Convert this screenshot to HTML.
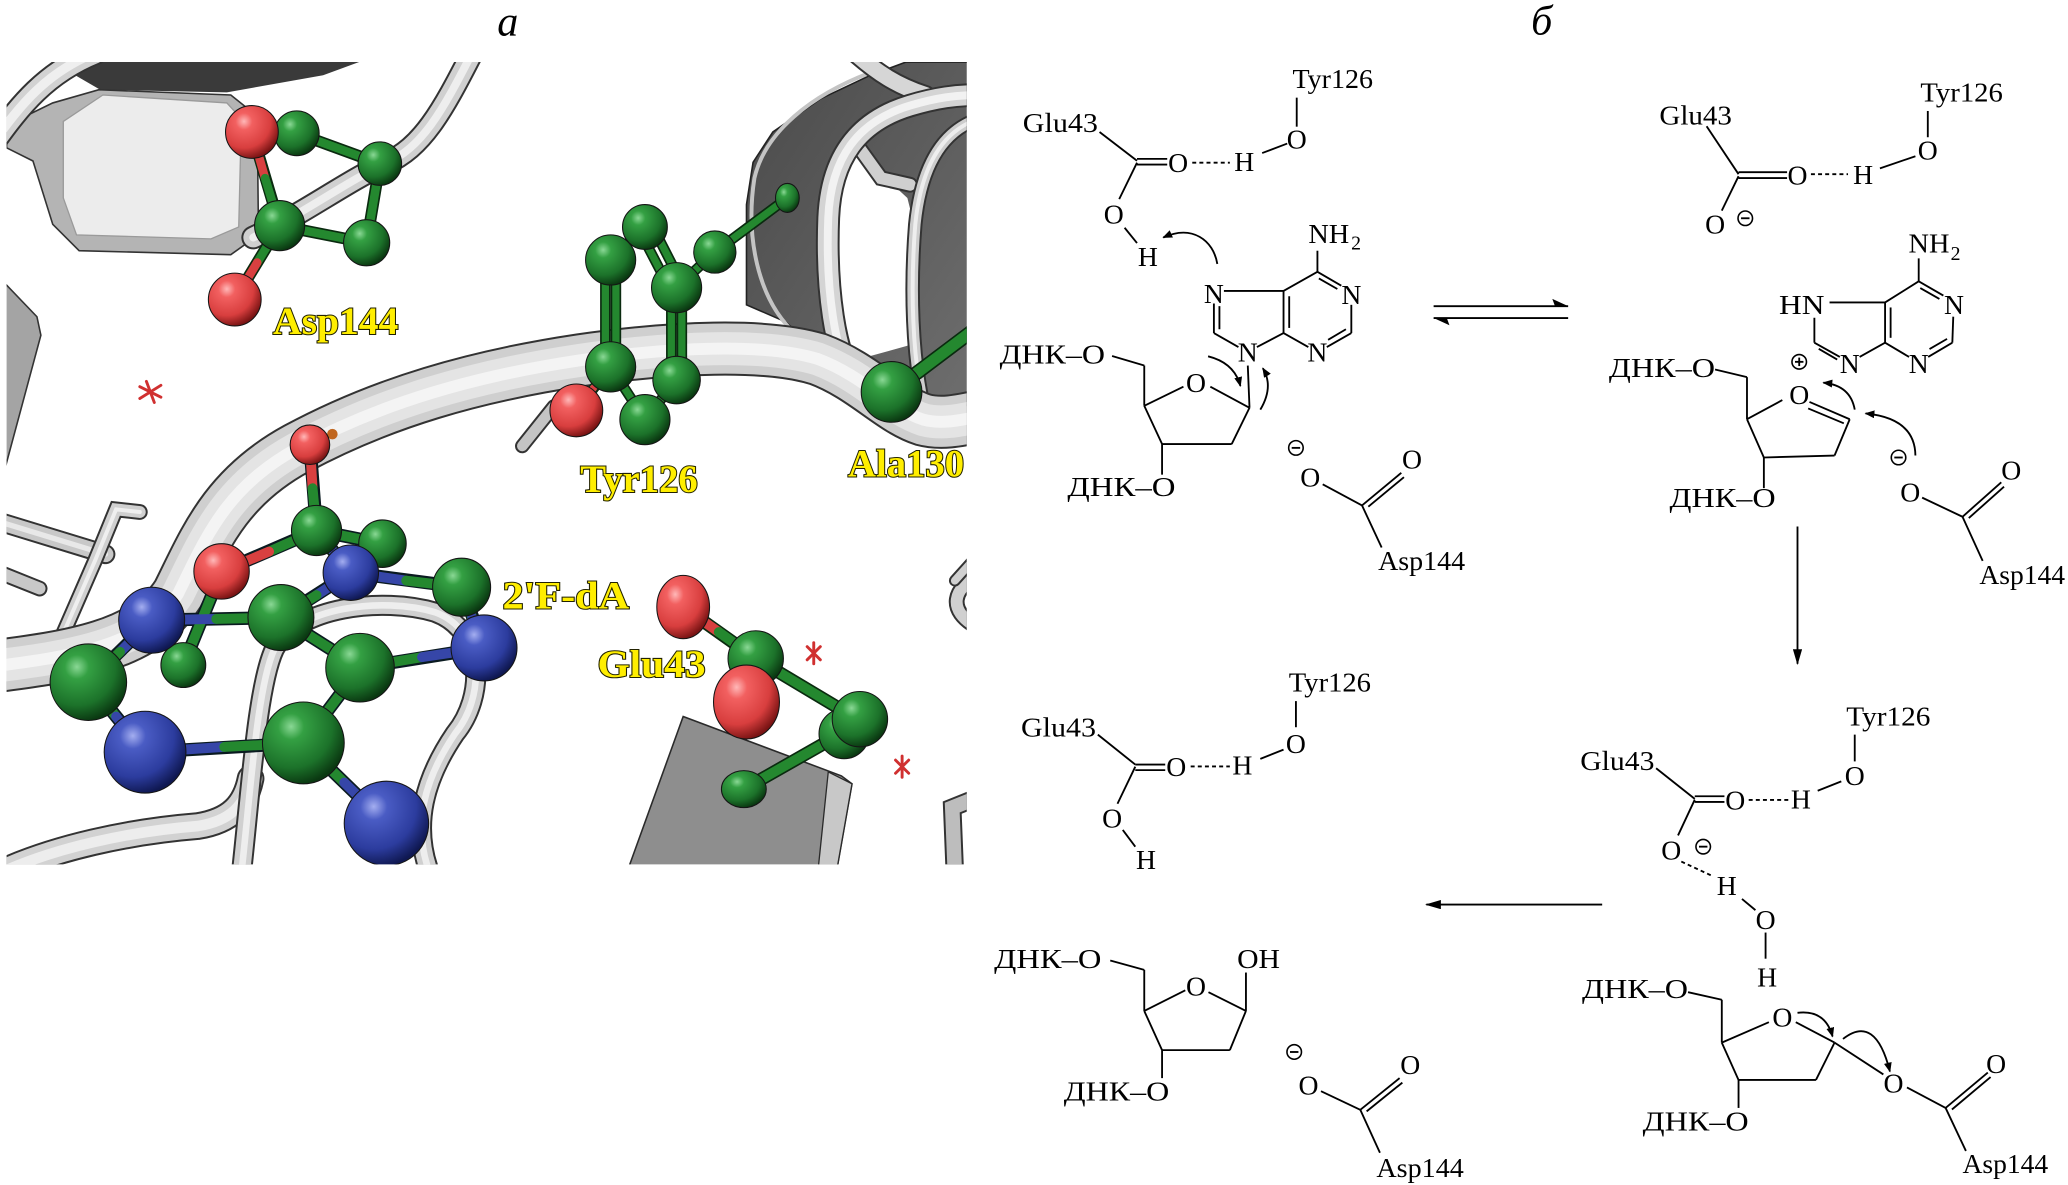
<!DOCTYPE html>
<html><head><meta charset="utf-8">
<style>
html,body{margin:0;padding:0;background:#fff;}
svg{display:block;}
.t{font-family:"Liberation Serif",serif;font-size:21px;fill:#000;}
.s{font-family:"Liberation Serif",serif;font-size:15px;fill:#000;}
.y{font-family:"Liberation Serif",serif;font-size:30px;font-weight:bold;fill:#ffee00;stroke:#222200;stroke-width:1.6px;paint-order:stroke;}
.lb{font-family:"Liberation Serif",serif;font-size:32px;font-style:italic;fill:#000;}
.c line,.c path,.c polyline{stroke:#000;stroke-width:1.4;fill:none;}
.c circle{stroke:#000;stroke-width:1.2;fill:none;}
</style></head><body>
<svg width="2068" height="1185" viewBox="0 0 1568 898" preserveAspectRatio="none" xmlns="http://www.w3.org/2000/svg">
<defs>
<clipPath id="pc"><rect x="5" y="47" width="728" height="608"/></clipPath>
<radialGradient id="gG" cx="35%" cy="30%" r="72%"><stop offset="0" stop-color="#8ad895"/><stop offset="0.22" stop-color="#34a043"/><stop offset="0.7" stop-color="#1c722a"/><stop offset="1" stop-color="#0a3811"/></radialGradient>
<radialGradient id="gR" cx="35%" cy="30%" r="72%"><stop offset="0" stop-color="#ffb8b8"/><stop offset="0.22" stop-color="#f26060"/><stop offset="0.7" stop-color="#d83e3e"/><stop offset="1" stop-color="#7a1414"/></radialGradient>
<radialGradient id="gB" cx="35%" cy="30%" r="72%"><stop offset="0" stop-color="#a4aef0"/><stop offset="0.22" stop-color="#4a5cc4"/><stop offset="0.7" stop-color="#2c3c9e"/><stop offset="1" stop-color="#0f1852"/></radialGradient>
<linearGradient id="dk" x1="0" y1="0" x2="1" y2="1"><stop offset="0" stop-color="#4a4a4a"/><stop offset="1" stop-color="#6e6e6e"/></linearGradient>
<marker id="ah" viewBox="0 0 10 8" refX="9" refY="4" markerWidth="7.5" markerHeight="6" markerUnits="userSpaceOnUse" orient="auto"><path d="M0,0 L10,4 L0,8 z" fill="#000"/></marker>
<marker id="ah2" viewBox="0 0 12 7" refX="11" refY="3.5" markerWidth="12" markerHeight="7" markerUnits="userSpaceOnUse" orient="auto"><path d="M0,0 L12,3.5 L0,7 z" fill="#000"/></marker>
<path id="tMain" d="M -5 505 C 50 498, 110 490, 135 450 C 155 410, 170 370, 225 340 C 290 305, 360 285, 440 273 C 510 263, 580 260, 620 272 C 655 285, 675 310, 700 318 C 715 322, 730 318, 745 315"/>
<path id="tLoop" d="M 183 662 C 190 600, 195 520, 208 492 C 225 460, 290 452, 330 464 C 368 478, 368 528, 345 556 C 322 590, 312 625, 326 662"/>
<path id="tBL" d="M -5 664 C 40 642, 100 630, 150 626 C 175 622, 186 610, 190 590"/>
<path id="tTop" d="M 358 40 C 335 85, 320 112, 292 124 C 262 138, 230 162, 192 180"/>
<path id="tTL" d="M -5 108 C 15 80, 35 55, 72 40"/>
<path id="tRing" d="M 650 292 C 632 272, 626 215, 628 165 C 630 120, 650 92, 690 80 C 710 74, 725 72, 742 72"/>
<path id="tIn" d="M 700 306 C 692 270, 690 220, 694 170 C 698 130, 712 100, 742 90"/>
<path id="tTR" d="M 648 40 C 665 55, 680 65, 702 72"/>
<path id="s1" d="M -5 394 L 80 420"/>
<path id="s2" d="M 48 480 L 72 425 L 88 386 L 106 388"/>
<path id="s3" d="M -5 432 L 30 446"/>
<path id="s4" d="M 396 338 L 420 308"/>
<path id="s5" d="M 650 110 L 668 135 L 690 140"/>
<path id="r1" d="M 742 436 C 724 445, 716 462, 742 476"/>
<path id="r2" d="M 742 604 L 722 612 L 724 662"/>
<path id="r3" d="M 742 420 L 724 440"/>
</defs>
<rect width="1568" height="898" fill="#fff"/>

<text class="lb" x="385" y="27" text-anchor="middle">а</text>
<text class="lb" x="1169" y="26" text-anchor="middle">б</text>

<!-- LEFT PANEL -->
<g clip-path="url(#pc)">
<polygon points="38,46 275,46 245,57 172,70 76,68" fill="#3a3a3a"/>
<polygon points="5,95 40,78 75,68 175,72 195,88 196,178 175,193 60,190 40,170 25,122 5,112" fill="#b4b4b4" stroke="#333" stroke-width="1.2"/>
<polygon points="48,92 78,72 172,78 183,90 181,172 160,181 58,178 48,150" fill="#ececec" stroke="#9a9a9a" stroke-width="1"/>
<g fill="none" stroke-linecap="round">
<use href="#tTL" stroke="#333" stroke-width="19"/><use href="#tTL" stroke="#d2d2d2" stroke-width="16"/><use href="#tTL" stroke="#efefef" stroke-width="7"/>
<use href="#tTop" stroke="#333" stroke-width="18"/><use href="#tTop" stroke="#d0d0d0" stroke-width="15"/><use href="#tTop" stroke="#eeeeee" stroke-width="6"/>
</g>
<polygon points="3,214 28,240 31,254 3,358" fill="#a4a4a4" stroke="#333" stroke-width="1.2"/>

<polygon points="566,231 566,155 571,123 586,100 622,75 660,57 687,47 735,47 735,307 698,310 655,297 622,269 596,244" fill="url(#dk)" stroke="#222" stroke-width="1.2"/>
<path d="M 600 250 C 575 225, 565 180, 572 135 C 580 100, 615 72, 660 55" fill="none" stroke="#c4c4c4" stroke-width="3"/>
<polygon points="634,252 632,160 637,123 652,105 662,126 688,150 693,170 695,244 688,262 652,272" fill="#fff"/>
<g fill="none" stroke-linecap="round">
<use href="#s5" stroke="#333" stroke-width="12"/><use href="#s5" stroke="#cfcfcf" stroke-width="9"/>
<use href="#tTR" stroke="#333" stroke-width="15"/><use href="#tTR" stroke="#d6d6d6" stroke-width="12"/>
<use href="#tIn" stroke="#333" stroke-width="11"/><use href="#tIn" stroke="#cdcdcd" stroke-width="8"/><use href="#tIn" stroke="#eeeeee" stroke-width="3"/>
<use href="#tRing" stroke="#333" stroke-width="18"/><use href="#tRing" stroke="#d4d4d4" stroke-width="15"/><use href="#tRing" stroke="#f2f2f2" stroke-width="6"/>
</g>

<polygon points="518,543 638,588 646,594 634,662 475,662" fill="#8e8e8e" stroke="#2a2a2a" stroke-width="1.2"/>
<polygon points="628,585 646,594 634,662 620,662" fill="#c8c8c8" stroke="#2a2a2a" stroke-width="1"/>
<g fill="none" stroke-linecap="round">
<use href="#r1" stroke="#333" stroke-width="12"/><use href="#r1" stroke="#d0d0d0" stroke-width="9"/>
<use href="#r2" stroke="#333" stroke-width="14"/><use href="#r2" stroke="#bdbdbd" stroke-width="11"/>
<use href="#r3" stroke="#333" stroke-width="9"/><use href="#r3" stroke="#d0d0d0" stroke-width="6"/>
<use href="#s1" stroke="#333" stroke-width="15"/><use href="#s1" stroke="#c8c8c8" stroke-width="12"/><use href="#s1" stroke="#e8e8e8" stroke-width="4"/>
<use href="#s3" stroke="#333" stroke-width="12"/><use href="#s3" stroke="#c8c8c8" stroke-width="9"/>
<use href="#s2" stroke="#333" stroke-width="12"/><use href="#s2" stroke="#d0d0d0" stroke-width="9"/><use href="#s2" stroke="#efefef" stroke-width="3"/>
<use href="#s4" stroke="#333" stroke-width="11"/><use href="#s4" stroke="#c4c4c4" stroke-width="8"/>
<use href="#tBL" stroke="#333" stroke-width="21"/><use href="#tBL" stroke="#d2d2d2" stroke-width="18"/><use href="#tBL" stroke="#ededed" stroke-width="8"/>
<use href="#tLoop" stroke="#333" stroke-width="16"/><use href="#tLoop" stroke="#d0d0d0" stroke-width="13"/><use href="#tLoop" stroke="#eeeeee" stroke-width="5"/>
<use href="#tMain" stroke="#333" stroke-width="41"/><use href="#tMain" stroke="#cfcfcf" stroke-width="38"/><use href="#tMain" stroke="#e4e4e4" stroke-width="25"/><use href="#tMain" stroke="#f4f4f4" stroke-width="9"/>
</g>

<g stroke="#d03030" stroke-width="2.2" stroke-linecap="round">
<line x1="111" y1="289" x2="117" y2="305"/><line x1="106" y1="293" x2="122" y2="301"/><line x1="106" y1="302" x2="122" y2="292"/>
<line x1="612" y1="490" x2="622" y2="500"/><line x1="622" y1="490" x2="612" y2="500"/><line x1="617" y1="487" x2="617" y2="503"/>
<line x1="679" y1="576" x2="689" y2="586"/><line x1="689" y1="576" x2="679" y2="586"/><line x1="684" y1="573" x2="684" y2="589"/>
</g>

<g stroke-linecap="round" fill="none">
<g stroke="#0a2a0f" stroke-width="9">
<line x1="191" y1="100" x2="212" y2="171"/><line x1="225" y1="101" x2="288" y2="124"/><line x1="288" y1="124" x2="278" y2="184"/><line x1="278" y1="184" x2="212" y2="171"/><line x1="212" y1="171" x2="178" y2="227"/><line x1="191" y1="100" x2="225" y2="101"/>
</g>
<g stroke-width="6.5">
<line x1="191" y1="100" x2="201" y2="135" stroke="#d84040"/><line x1="201" y1="135" x2="212" y2="171" stroke="#24882f"/>
<line x1="225" y1="101" x2="288" y2="124" stroke="#24882f"/><line x1="288" y1="124" x2="278" y2="184" stroke="#24882f"/><line x1="278" y1="184" x2="212" y2="171" stroke="#24882f"/>
<line x1="212" y1="171" x2="195" y2="199" stroke="#24882f"/><line x1="195" y1="199" x2="178" y2="227" stroke="#d84040"/>
</g>
<g stroke="#0a2a0f" stroke-width="8">
<line x1="489" y1="172" x2="463" y2="197"/><line x1="513" y1="218" x2="542" y2="191"/><line x1="542" y1="191" x2="597" y2="150"/>
<line x1="463" y1="278" x2="489" y2="318"/><line x1="513" y1="288" x2="489" y2="318"/><line x1="463" y1="278" x2="437" y2="311"/>
<line x1="485" y1="175" x2="509" y2="221"/><line x1="494" y1="170" x2="517" y2="215"/>
<line x1="459" y1="197" x2="459" y2="278"/><line x1="467" y1="197" x2="467" y2="278"/>
<line x1="509" y1="218" x2="509" y2="288"/><line x1="517" y1="218" x2="517" y2="288"/>
</g>
<g stroke="#24882f" stroke-width="5.5">
<line x1="489" y1="172" x2="463" y2="197"/><line x1="513" y1="218" x2="542" y2="191"/><line x1="542" y1="191" x2="597" y2="150"/>
<line x1="463" y1="278" x2="489" y2="318"/><line x1="513" y1="288" x2="489" y2="318"/><line x1="463" y1="278" x2="450" y2="294"/>
<line x1="485" y1="175" x2="509" y2="221"/><line x1="494" y1="170" x2="517" y2="215"/>
<line x1="459" y1="197" x2="459" y2="278"/><line x1="467" y1="197" x2="467" y2="278"/>
<line x1="509" y1="218" x2="509" y2="288"/><line x1="517" y1="218" x2="517" y2="288"/>
<line x1="450" y1="294" x2="437" y2="311" stroke="#d84040"/>
</g>
<line x1="676" y1="297" x2="745" y2="245" stroke="#0a2a0f" stroke-width="11"/>
<line x1="676" y1="297" x2="745" y2="245" stroke="#24882f" stroke-width="8.5"/>
<g stroke="#0a1a20" stroke-width="10">
<line x1="235" y1="337" x2="240" y2="402"/><line x1="240" y1="402" x2="290" y2="412"/><line x1="240" y1="402" x2="168" y2="433"/><line x1="240" y1="402" x2="266" y2="434"/><line x1="168" y1="433" x2="139" y2="504"/>
<line x1="266" y1="434" x2="350" y2="445"/><line x1="266" y1="434" x2="213" y2="468"/><line x1="115" y1="470" x2="213" y2="468"/><line x1="115" y1="470" x2="67" y2="517"/>
<line x1="213" y1="468" x2="273" y2="506"/><line x1="273" y1="506" x2="367" y2="491"/><line x1="350" y1="445" x2="367" y2="491"/><line x1="67" y1="517" x2="110" y2="570"/>
<line x1="110" y1="570" x2="230" y2="563"/><line x1="230" y1="563" x2="273" y2="506"/><line x1="230" y1="563" x2="293" y2="624"/>
</g>
<g stroke-width="7.5">
<line x1="235" y1="337" x2="237" y2="370" stroke="#d84040"/><line x1="237" y1="370" x2="240" y2="402" stroke="#24882f"/>
<line x1="240" y1="402" x2="290" y2="412" stroke="#24882f"/>
<line x1="240" y1="402" x2="204" y2="418" stroke="#24882f"/><line x1="204" y1="418" x2="168" y2="433" stroke="#d84040"/>
<line x1="240" y1="402" x2="253" y2="418" stroke="#24882f"/><line x1="253" y1="418" x2="266" y2="434" stroke="#3646a8"/>
<line x1="168" y1="433" x2="139" y2="504" stroke="#24882f"/>
<line x1="266" y1="434" x2="308" y2="440" stroke="#3646a8"/><line x1="308" y1="440" x2="350" y2="445" stroke="#24882f"/>
<line x1="266" y1="434" x2="240" y2="451" stroke="#3646a8"/><line x1="240" y1="451" x2="213" y2="468" stroke="#24882f"/>
<line x1="115" y1="470" x2="164" y2="469" stroke="#3646a8"/><line x1="164" y1="469" x2="213" y2="468" stroke="#24882f"/>
<line x1="115" y1="470" x2="91" y2="494" stroke="#3646a8"/><line x1="91" y1="494" x2="67" y2="517" stroke="#24882f"/>
<line x1="213" y1="468" x2="273" y2="506" stroke="#24882f"/>
<line x1="273" y1="506" x2="320" y2="498" stroke="#24882f"/><line x1="320" y1="498" x2="367" y2="491" stroke="#3646a8"/>
<line x1="350" y1="445" x2="358" y2="468" stroke="#24882f"/><line x1="358" y1="468" x2="367" y2="491" stroke="#3646a8"/>
<line x1="67" y1="517" x2="88" y2="543" stroke="#24882f"/><line x1="88" y1="543" x2="110" y2="570" stroke="#3646a8"/>
<line x1="110" y1="570" x2="170" y2="566" stroke="#3646a8"/><line x1="170" y1="566" x2="230" y2="563" stroke="#24882f"/>
<line x1="230" y1="563" x2="273" y2="506" stroke="#24882f"/>
<line x1="230" y1="563" x2="261" y2="593" stroke="#24882f"/><line x1="261" y1="593" x2="293" y2="624" stroke="#3646a8"/>
</g>
<g stroke="#0a2a0f" stroke-width="10">
<line x1="518" y1="460" x2="573" y2="499"/><line x1="573" y1="499" x2="650" y2="545"/><line x1="645" y1="552" x2="564" y2="598"/>
</g>
<g stroke-width="7.5">
<line x1="518" y1="460" x2="545" y2="479" stroke="#d84040"/><line x1="545" y1="479" x2="573" y2="499" stroke="#24882f"/>
<line x1="573" y1="499" x2="650" y2="545" stroke="#24882f"/><line x1="645" y1="552" x2="564" y2="598" stroke="#24882f"/>
</g>
</g>

<g stroke="#151515" stroke-width="0.8">
<circle cx="225" cy="101" r="17" fill="url(#gG)"/>
<circle cx="191" cy="100" r="20" fill="url(#gR)"/>
<circle cx="288" cy="124" r="16.5" fill="url(#gG)"/>
<circle cx="212" cy="171" r="19" fill="url(#gG)"/>
<circle cx="278" cy="184" r="17.5" fill="url(#gG)"/>
<circle cx="178" cy="227" r="20" fill="url(#gR)"/>
<circle cx="489" cy="172" r="17" fill="url(#gG)"/>
<circle cx="463" cy="197" r="19" fill="url(#gG)"/>
<circle cx="542" cy="191" r="16" fill="url(#gG)"/>
<circle cx="513" cy="218" r="19" fill="url(#gG)"/>
<ellipse cx="597" cy="150" rx="9" ry="11" fill="url(#gG)"/>
<circle cx="463" cy="278" r="19" fill="url(#gG)"/>
<circle cx="513" cy="288" r="18" fill="url(#gG)"/>
<circle cx="489" cy="318" r="19" fill="url(#gG)"/>
<circle cx="437" cy="311" r="20" fill="url(#gR)"/>
<circle cx="676" cy="297" r="23" fill="url(#gG)"/>
<circle cx="252" cy="329" r="4" fill="#c0661f" stroke="none"/>
<circle cx="235" cy="337" r="15" fill="url(#gR)"/>
<circle cx="290" cy="412" r="18" fill="url(#gG)"/>
<circle cx="240" cy="402" r="19" fill="url(#gG)"/>
<circle cx="168" cy="433" r="21" fill="url(#gR)"/>
<circle cx="139" cy="504" r="17" fill="url(#gG)"/>
<circle cx="266" cy="434" r="21" fill="url(#gB)"/>
<circle cx="350" cy="445" r="22" fill="url(#gG)"/>
<circle cx="115" cy="470" r="25" fill="url(#gB)"/>
<circle cx="213" cy="468" r="25" fill="url(#gG)"/>
<circle cx="367" cy="491" r="25" fill="url(#gB)"/>
<circle cx="273" cy="506" r="26" fill="url(#gG)"/>
<circle cx="67" cy="517" r="29" fill="url(#gG)"/>
<circle cx="110" cy="570" r="31" fill="url(#gB)"/>
<circle cx="230" cy="563" r="31" fill="url(#gG)"/>
<circle cx="293" cy="624" r="32" fill="url(#gB)"/>
<ellipse cx="518" cy="460" rx="20" ry="24" fill="url(#gR)"/>
<circle cx="573" cy="499" r="21" fill="url(#gG)"/>
<circle cx="640" cy="556" r="19" fill="url(#gG)"/>
<circle cx="652" cy="545" r="21" fill="url(#gG)"/>
<ellipse cx="564" cy="598" rx="17" ry="14" fill="url(#gG)"/>
<ellipse cx="566" cy="532" rx="25" ry="28" fill="url(#gR)"/>
</g>

<text class="y" x="207" y="253" textLength="95" lengthAdjust="spacingAndGlyphs">Asp144</text>
<text class="y" x="440" y="373" textLength="89" lengthAdjust="spacingAndGlyphs">Tyr126</text>
<text class="y" x="643" y="361" textLength="88" lengthAdjust="spacingAndGlyphs">Ala130</text>
<text class="y" x="381" y="461" textLength="96" lengthAdjust="spacingAndGlyphs">2'F-dA</text>
<text class="y" x="453" y="513" textLength="82" lengthAdjust="spacingAndGlyphs">Glu43</text>
</g>

<!-- RIGHT PANEL : CHEMISTRY -->
<g class="c">
<text class="t" x="980" y="66.7" textLength="61" lengthAdjust="spacingAndGlyphs">Tyr126</text>
<line x1="983.2" y1="74" x2="983.2" y2="96"/>
<text class="t" x="983.2" y="112.5" text-anchor="middle">O</text>
<line x1="976" y1="108.8" x2="957" y2="116"/>
<text class="t" x="943.4" y="129.5" text-anchor="middle">H</text>
<line x1="904" y1="123.3" x2="932.5" y2="123.3" stroke-dasharray="3,2.4"/>
<text class="t" x="893.3" y="130.5" text-anchor="middle">O</text>
<line x1="862.1" y1="120.4" x2="885" y2="120.4"/><line x1="862.1" y1="124.7" x2="885" y2="124.7"/>
<text class="t" x="775.5" y="100" textLength="57" lengthAdjust="spacingAndGlyphs">Glu43</text>
<line x1="833.7" y1="100" x2="862.1" y2="121.8"/>
<line x1="862.1" y1="123.3" x2="848.6" y2="150.9"/>
<text class="t" x="844.5" y="169.5" text-anchor="middle">O</text>
<line x1="852.7" y1="172.6" x2="862.1" y2="184.2"/>
<text class="t" x="870.3" y="201.6" text-anchor="middle">H</text>
<path d="M 923 200 C 920 182, 904 170, 882 180" marker-end="url(#ah)"/>
<text class="t" x="992" y="184" textLength="31" lengthAdjust="spacingAndGlyphs">NH</text>
<text class="s" x="1024.5" y="189">2</text>
<line x1="998.9" y1="190" x2="998.9" y2="206"/>
<line x1="998.9" y1="206" x2="1017" y2="216.5"/><line x1="1000" y1="211" x2="1014" y2="219"/>
<line x1="1024.6" y1="231" x2="1024.6" y2="252.4"/>
<line x1="1024.6" y1="252.4" x2="1006" y2="263"/><line x1="1020.5" y1="249.5" x2="1007" y2="257.5"/>
<line x1="992" y1="263" x2="973.2" y2="252.4"/>
<line x1="973.2" y1="252.4" x2="973.2" y2="220.5"/><line x1="977.5" y1="224.5" x2="977.5" y2="248.5"/>
<line x1="973.2" y1="220.5" x2="998.9" y2="206"/>
<line x1="973.2" y1="220.5" x2="928" y2="220.5"/>
<line x1="920.4" y1="230" x2="920.4" y2="252.4"/><line x1="924.6" y1="232" x2="924.6" y2="249.5"/>
<line x1="920.4" y1="252.4" x2="939" y2="263"/>
<line x1="953" y1="263" x2="973.2" y2="252.4"/>
<text class="t" x="920.4" y="229.5" text-anchor="middle">N</text>
<text class="t" x="1024.6" y="230.5" text-anchor="middle">N</text>
<text class="t" x="998.9" y="274" text-anchor="middle">N</text>
<text class="t" x="946.1" y="274" text-anchor="middle">N</text>
<line x1="947.4" y1="309" x2="946.1" y2="277"/>
<text class="t" x="757.9" y="275.6" textLength="80" lengthAdjust="spacingAndGlyphs">ДНК–O</text>
<line x1="843.2" y1="269.8" x2="867.6" y2="277"/>
<line x1="867.6" y1="277" x2="867.6" y2="307.5"/>
<line x1="867.6" y1="307.5" x2="897.3" y2="293"/>
<text class="t" x="906.8" y="297" text-anchor="middle">O</text>
<line x1="917.7" y1="293" x2="947.4" y2="309"/>
<line x1="947.4" y1="309" x2="933.9" y2="336.5"/>
<line x1="933.9" y1="336.5" x2="881.1" y2="336.5"/>
<line x1="881.1" y1="336.5" x2="867.6" y2="307.5"/>
<line x1="881.1" y1="336.5" x2="881.1" y2="359.7"/>
<text class="t" x="809.3" y="375.7" textLength="82" lengthAdjust="spacingAndGlyphs">ДНК–O</text>
<path d="M 916 270 Q 936 275, 940.5 292.5" marker-end="url(#ah)"/>
<path d="M 955.6 310.4 Q 966 293, 957.5 279" marker-end="url(#ah)"/>
<circle cx="982.6" cy="339.4" r="5.5"/><line x1="979.4" y1="339.4" x2="985.8" y2="339.4"/>
<text class="t" x="993.5" y="368.5" text-anchor="middle">O</text>
<line x1="1002.9" y1="367" x2="1032.7" y2="383"/>
<line x1="1032.7" y1="383" x2="1062.5" y2="358.3"/><line x1="1037.5" y1="384" x2="1064.5" y2="361.6"/>
<text class="t" x="1070.6" y="355" text-anchor="middle">O</text>
<line x1="1032.7" y1="383" x2="1047.6" y2="414.9"/>
<text class="t" x="1044.9" y="432" textLength="66" lengthAdjust="spacingAndGlyphs">Asp144</text>

<line x1="1087" y1="232" x2="1189" y2="232"/>
<polygon points="1189,232 1177,226.5 1179,232" fill="#000" stroke="none"/>
<line x1="1087" y1="241" x2="1189" y2="241"/>
<polygon points="1087,241 1099,246.5 1097,241" fill="#000" stroke="none"/>

<text class="t" x="1456.1" y="76.9" textLength="62.5" lengthAdjust="spacingAndGlyphs">Tyr126</text>
<line x1="1461.7" y1="84.1" x2="1461.7" y2="104"/>
<text class="t" x="1461.7" y="121" text-anchor="middle">O</text>
<line x1="1452.3" y1="118.4" x2="1425.4" y2="127.6"/>
<text class="t" x="1412.7" y="139.3" text-anchor="middle">H</text>
<line x1="1373.1" y1="132" x2="1401.2" y2="132" stroke-dasharray="3,2.4"/>
<text class="t" x="1362.9" y="140" text-anchor="middle">O</text>
<line x1="1318.2" y1="130.5" x2="1355" y2="130.5"/><line x1="1318.2" y1="134.9" x2="1355" y2="134.9"/>
<text class="t" x="1258.2" y="94.3" textLength="55" lengthAdjust="spacingAndGlyphs">Glu43</text>
<line x1="1294" y1="95.7" x2="1318.2" y2="132"/>
<line x1="1318.2" y1="133.5" x2="1305.5" y2="159.6"/>
<text class="t" x="1300.4" y="177" text-anchor="middle">O</text>
<circle cx="1323.3" cy="165.4" r="5.5"/><line x1="1320.1" y1="165.4" x2="1326.5" y2="165.4"/>
<text class="t" x="1447.1" y="191.5" textLength="31" lengthAdjust="spacingAndGlyphs">NH</text>
<text class="s" x="1479" y="197">2</text>
<line x1="1454.8" y1="195.8" x2="1454.8" y2="213.2"/>
<line x1="1454.8" y1="213.2" x2="1473.5" y2="224"/><line x1="1456" y1="218.3" x2="1470.5" y2="226.5"/>
<line x1="1481" y1="240" x2="1480.3" y2="259.7"/>
<line x1="1480.3" y1="259.7" x2="1462" y2="270.5"/><line x1="1476.3" y1="256.8" x2="1463" y2="264.5"/>
<line x1="1447.5" y1="270.5" x2="1429.3" y2="259.7"/>
<line x1="1429.3" y1="259.7" x2="1429.3" y2="229.2"/><line x1="1433.5" y1="233" x2="1433.5" y2="256"/>
<line x1="1429.3" y1="229.2" x2="1454.8" y2="213.2"/>
<line x1="1429.3" y1="229.2" x2="1387.2" y2="229.2"/>
<text class="t" x="1348.9" y="237.9" textLength="34.4" lengthAdjust="spacingAndGlyphs">HN</text>
<line x1="1375.7" y1="240.8" x2="1375.7" y2="259.7"/>
<line x1="1375.7" y1="259.7" x2="1395" y2="270.5"/><line x1="1379" y1="264.3" x2="1393" y2="272.5"/>
<line x1="1410" y1="270.5" x2="1429.3" y2="259.7"/>
<text class="t" x="1481.6" y="238" text-anchor="middle">N</text>
<text class="t" x="1454.8" y="282.5" text-anchor="middle">N</text>
<text class="t" x="1402.5" y="282.5" text-anchor="middle">N</text>
<circle cx="1364.2" cy="274.2" r="5.5"/><line x1="1361" y1="274.2" x2="1367.4" y2="274.2"/><line x1="1364.2" y1="271" x2="1364.2" y2="277.4"/>
<text class="t" x="1219.9" y="285.8" textLength="80.5" lengthAdjust="spacingAndGlyphs">ДНК–O</text>
<line x1="1300.4" y1="280" x2="1324.6" y2="285.8"/>
<line x1="1324.6" y1="285.8" x2="1324.6" y2="317.7"/>
<line x1="1324.6" y1="317.7" x2="1351.4" y2="303.2"/>
<text class="t" x="1364.2" y="306" text-anchor="middle">O</text>
<line x1="1372" y1="304.6" x2="1402.5" y2="317.7"/><line x1="1371" y1="309.5" x2="1398" y2="320.8"/>
<line x1="1402.5" y1="317.7" x2="1391" y2="345.2"/>
<line x1="1391" y1="345.2" x2="1337.4" y2="346.7"/>
<line x1="1337.4" y1="346.7" x2="1324.6" y2="317.7"/>
<line x1="1337.4" y1="346.7" x2="1337.4" y2="369.9"/>
<text class="t" x="1265.9" y="384.4" textLength="80.4" lengthAdjust="spacingAndGlyphs">ДНК–O</text>
<path d="M 1406.3 310.4 Q 1403 292, 1382.5 290" marker-end="url(#ah)"/>
<path d="M 1452.3 345.2 Q 1452 317, 1414.5 313.3" marker-end="url(#ah)"/>
<circle cx="1439.5" cy="346.7" r="5.5"/><line x1="1436.3" y1="346.7" x2="1442.7" y2="346.7"/>
<text class="t" x="1448.4" y="380" text-anchor="middle">O</text>
<line x1="1457.4" y1="377.1" x2="1488" y2="391.6"/>
<line x1="1488" y1="391.6" x2="1517.4" y2="365.5"/><line x1="1492.8" y1="392.6" x2="1519.5" y2="368.8"/>
<text class="t" x="1525" y="363.5" text-anchor="middle">O</text>
<line x1="1488" y1="391.6" x2="1503.3" y2="425"/>
<text class="t" x="1500.8" y="442.4" textLength="65" lengthAdjust="spacingAndGlyphs">Asp144</text>

<line x1="1362.9" y1="399" x2="1362.9" y2="503" marker-end="url(#ah2)"/>

<text class="t" x="1399.9" y="549.7" textLength="63.8" lengthAdjust="spacingAndGlyphs">Tyr126</text>
<line x1="1406.3" y1="556.7" x2="1406.3" y2="577"/>
<text class="t" x="1406.3" y="595" text-anchor="middle">O</text>
<line x1="1396.1" y1="592.1" x2="1378.2" y2="599.2"/>
<text class="t" x="1365.5" y="612.5" text-anchor="middle">H</text>
<line x1="1325.9" y1="606.2" x2="1356.5" y2="606.2" stroke-dasharray="3,2.4"/>
<text class="t" x="1315.7" y="613.5" text-anchor="middle">O</text>
<line x1="1285" y1="603.4" x2="1307.5" y2="603.4"/><line x1="1285" y1="607.7" x2="1307.5" y2="607.7"/>
<text class="t" x="1198.2" y="583.6" textLength="56.2" lengthAdjust="spacingAndGlyphs">Glu43</text>
<line x1="1255.7" y1="582.2" x2="1285" y2="605.4"/>
<line x1="1285" y1="606" x2="1272.3" y2="633.1"/>
<text class="t" x="1267.2" y="651.5" text-anchor="middle">O</text>
<circle cx="1291.4" cy="641.6" r="5.5"/><line x1="1288.2" y1="641.6" x2="1294.6" y2="641.6"/>
<line x1="1274.8" y1="652.9" x2="1299.1" y2="664.2" stroke-dasharray="3,2.4"/>
<text class="t" x="1309.3" y="678.4" text-anchor="middle">H</text>
<line x1="1320.8" y1="681.2" x2="1331" y2="689.7"/>
<text class="t" x="1338.7" y="704" text-anchor="middle">O</text>
<line x1="1338.7" y1="706.7" x2="1338.7" y2="726.5"/>
<text class="t" x="1339.9" y="747.7" text-anchor="middle">H</text>
<text class="t" x="1199.5" y="756.2" textLength="80.4" lengthAdjust="spacingAndGlyphs">ДНК–O</text>
<line x1="1279.9" y1="751.9" x2="1305.5" y2="757.6"/>
<line x1="1305.5" y1="757.6" x2="1305.5" y2="790.1"/>
<line x1="1305.5" y1="790.1" x2="1341.2" y2="774.6"/>
<text class="t" x="1351.4" y="778" text-anchor="middle">O</text>
<line x1="1361.6" y1="774.6" x2="1391" y2="790.1"/>
<line x1="1391" y1="790.1" x2="1376.9" y2="818.4"/>
<line x1="1376.9" y1="818.4" x2="1318.2" y2="818.4"/>
<line x1="1318.2" y1="818.4" x2="1305.5" y2="790.1"/>
<line x1="1318.2" y1="818.4" x2="1318.2" y2="839.6"/>
<text class="t" x="1245.5" y="856.6" textLength="80.4" lengthAdjust="spacingAndGlyphs">ДНК–O</text>
<line x1="1391" y1="790.1" x2="1428" y2="814.2"/>
<text class="t" x="1435.7" y="828" text-anchor="middle">O</text>
<line x1="1445.9" y1="824.1" x2="1475.2" y2="839.6"/>
<line x1="1475.2" y1="839.6" x2="1507.2" y2="812.8"/><line x1="1480" y1="840.8" x2="1509.3" y2="816.2"/>
<text class="t" x="1513.5" y="813" text-anchor="middle">O</text>
<line x1="1475.2" y1="839.6" x2="1490.6" y2="872.2"/>
<text class="t" x="1488" y="889.1" textLength="65" lengthAdjust="spacingAndGlyphs">Asp144</text>
<path d="M 1362.9 767.5 Q 1384 765, 1389.5 785.5" marker-end="url(#ah)"/>
<path d="M 1397.4 787.3 Q 1422 768, 1433 812" marker-end="url(#ah)"/>

<line x1="1214.8" y1="685.5" x2="1081.5" y2="685.5" marker-end="url(#ah2)"/>

<text class="t" x="977.2" y="524.2" textLength="62.3" lengthAdjust="spacingAndGlyphs">Tyr126</text>
<line x1="982.6" y1="531.3" x2="982.6" y2="551.1"/>
<text class="t" x="982.6" y="570.5" text-anchor="middle">O</text>
<line x1="973.2" y1="568.1" x2="955.6" y2="575.1"/>
<text class="t" x="942" y="587" text-anchor="middle">H</text>
<line x1="902.8" y1="580.8" x2="932.5" y2="580.8" stroke-dasharray="3,2.4"/>
<text class="t" x="891.9" y="588" text-anchor="middle">O</text>
<line x1="860.8" y1="579.4" x2="883.5" y2="579.4"/><line x1="860.8" y1="583.6" x2="883.5" y2="583.6"/>
<text class="t" x="774.1" y="558.2" textLength="56.9" lengthAdjust="spacingAndGlyphs">Glu43</text>
<line x1="832.4" y1="556.7" x2="860.8" y2="579.4"/>
<line x1="860.8" y1="581" x2="847.3" y2="609.1"/>
<text class="t" x="843.2" y="627" text-anchor="middle">O</text>
<line x1="851.3" y1="628.9" x2="860.8" y2="641.6"/>
<text class="t" x="868.9" y="658.6" text-anchor="middle">H</text>
<text class="t" x="753.8" y="733.5" textLength="81.3" lengthAdjust="spacingAndGlyphs">ДНК–O</text>
<line x1="841.8" y1="727.9" x2="867.6" y2="735"/>
<line x1="867.6" y1="735" x2="867.6" y2="766.1"/>
<line x1="867.6" y1="766.1" x2="898.7" y2="750.5"/>
<text class="t" x="906.8" y="754.5" text-anchor="middle">O</text>
<line x1="916.3" y1="751.9" x2="944.7" y2="766.1"/>
<line x1="944.7" y1="766.1" x2="944.7" y2="737"/>
<text class="t" x="938" y="733.5" textLength="32.5" lengthAdjust="spacingAndGlyphs">OH</text>
<line x1="944.7" y1="766.1" x2="932.5" y2="795.8"/>
<line x1="932.5" y1="795.8" x2="881.1" y2="795.8"/>
<line x1="881.1" y1="795.8" x2="867.6" y2="766.1"/>
<line x1="881.1" y1="795.8" x2="881.1" y2="817"/>
<text class="t" x="806.6" y="834" textLength="80" lengthAdjust="spacingAndGlyphs">ДНК–O</text>
<circle cx="981.3" cy="797.2" r="5.5"/><line x1="978.1" y1="797.2" x2="984.5" y2="797.2"/>
<text class="t" x="992.1" y="829.5" text-anchor="middle">O</text>
<line x1="1001.6" y1="826.9" x2="1031.4" y2="841"/>
<line x1="1031.4" y1="841" x2="1061.2" y2="817"/><line x1="1036.2" y1="842.2" x2="1063.3" y2="820.4"/>
<text class="t" x="1069.3" y="814" text-anchor="middle">O</text>
<line x1="1031.4" y1="841" x2="1046.3" y2="873.6"/>
<text class="t" x="1043.6" y="892" textLength="66.3" lengthAdjust="spacingAndGlyphs">Asp144</text>
</g>
</svg>
</body></html>
